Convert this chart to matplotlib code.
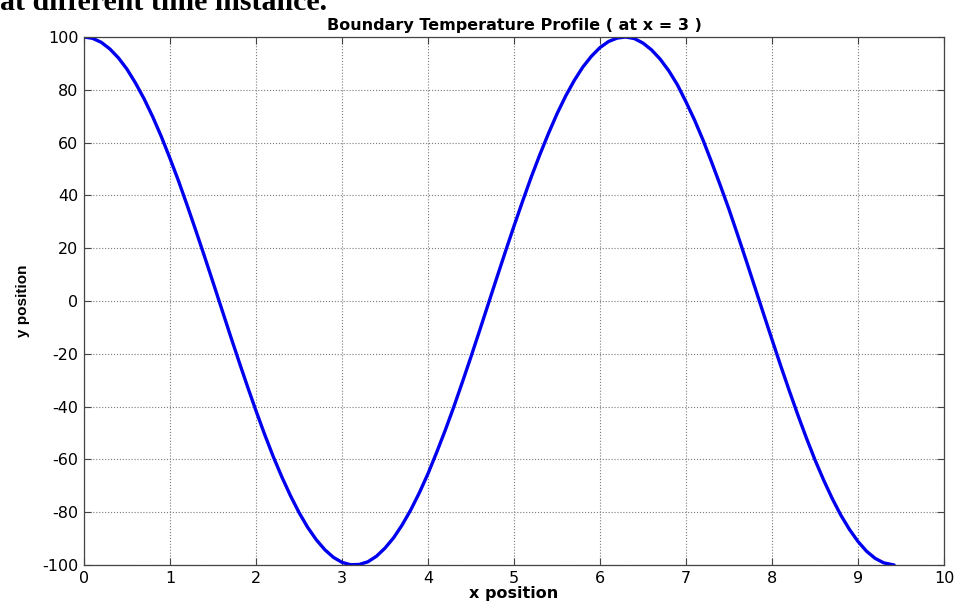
import matplotlib
matplotlib.use("Agg")
import matplotlib.pyplot as plt

x_vals = [0.0, 0.1, 0.2, 0.3, 0.4, 0.5, 0.6, 0.7, 0.8, 0.9, 1.0, 1.1, 1.2, 1.3, 1.4, 1.5,
          1.6, 1.7, 1.8, 1.9, 2.0, 2.1, 2.2, 2.3, 2.4, 2.5, 2.6, 2.7, 2.8, 2.9, 3.0, 3.1,
          3.2, 3.3, 3.4, 3.5, 3.6, 3.7, 3.8, 3.9, 4.0, 4.1, 4.2, 4.3, 4.4, 4.5, 4.6, 4.7,
          4.8, 4.9, 5.0, 5.1, 5.2, 5.3, 5.4, 5.5, 5.6, 5.7, 5.8, 5.9, 6.0, 6.1, 6.2, 6.3,
          6.4, 6.5, 6.6, 6.7, 6.8, 6.9, 7.0, 7.1, 7.2, 7.3, 7.4, 7.5, 7.6, 7.7, 7.8, 7.9,
          8.0, 8.1, 8.2, 8.3, 8.4, 8.5, 8.6, 8.7, 8.8, 8.9, 9.0, 9.1, 9.2, 9.3, 9.42]
y_vals = [100.0, 99.5, 98.0, 95.5, 92.1, 87.8, 82.5, 76.5, 69.7, 62.2, 54.0, 45.4, 36.2, 26.7,
          17.0, 7.1, -2.9, -12.9, -22.7, -32.3, -41.6, -50.5, -58.9, -66.6, -73.7, -80.1,
          -85.7, -90.4, -94.2, -97.1, -99.0, -99.9, -99.8, -98.8, -96.7, -93.6, -89.7,
          -84.8, -79.1, -72.6, -65.4, -57.4, -49.0, -40.1, -30.7, -21.1, -11.2, -1.2,
          8.8, 18.7, 28.4, 37.8, 46.9, 55.4, 63.4, 70.9, 77.6, 83.5, 88.6, 92.7, 96.0,
          98.3, 99.6, 100.0, 99.4, 97.7, 95.1, 91.6, 87.2, 81.9, 75.4, 68.5, 60.8, 52.4,
          43.7, 34.7, 25.1, 15.3, 5.3, -4.7, -14.6, -24.4, -33.9, -43.1, -51.9, -60.2,
          -67.8, -74.8, -81.1, -86.5, -91.1, -94.8, -97.5, -99.2, -100.0]
x_ticks = list(range(0, 11))
y_ticks = list(range(-100, 101, 20))

plt.rcParams['font.family'] = ['DejaVu Sans']
plt.rcParams['axes.unicode_minus'] = False

fig = plt.figure(figsize=(9.6, 6.05), dpi=100)
ax = fig.add_axes([84/960, 1 - 565/605, (944-84)/960, (565-37)/605])

ax.plot(x_vals, y_vals, color='#0000ee', linewidth=2.4, solid_capstyle='round',
        solid_joinstyle='round')
ax.set_xlim(0, 10)
ax.set_ylim(-100, 100)
ax.set_xticks(x_ticks)
ax.set_yticks(y_ticks)
ax.grid(True, linestyle=':', color='#7a7a7a', linewidth=0.8)
ax.tick_params(direction='in', top=True, right=True, labelsize=11.5, length=5,
               color='#444444', pad=4)
for s in ax.spines.values():
    s.set_color('#444444')
    s.set_linewidth(0.9)

ax.set_title('Boundary Temperature Profile ( at x = 3 )', fontsize=11.5, fontweight='bold', pad=5)
ax.set_xlabel('x position', fontsize=11.5, fontweight='bold', labelpad=0)
ax.set_ylabel('y position', fontsize=11, fontweight='bold', labelpad=9,
              family='Liberation Sans')

fig.text(0.0, 1 - 10/605, 'at different time instance.', fontsize=21.5, fontweight='bold',
         family='Liberation Serif', va='baseline', ha='left')

fig.savefig('out.png', dpi=100)
